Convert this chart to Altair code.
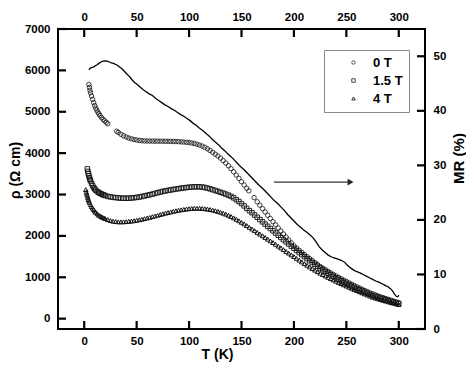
import altair as alt
import pandas as pd

# ---------------- data ----------------
SERIES = ["0 T", "1.5 T", "4 T"]

T_DENSE = [22.5, 25, 27.5, 30, 32.5, 35, 37.5, 40, 42.5, 45,
           47.5, 50, 52.5, 55, 57.5, 60, 62.5, 65, 67.5, 70,
           72.5, 75, 77.5, 80, 82.5, 85, 87.5, 90, 92.5, 95,
           97.5, 100, 102.5, 105, 107.5, 110, 112.5, 115, 117.5, 120,
           122.5, 125, 127.5, 130, 132.5, 135, 137.5, 140, 142.5, 145,
           147.5, 150, 152.5, 155, 157.5, 160, 162.5, 165, 167.5, 170,
           172.5, 175, 177.5, 180, 182.5, 185, 187.5, 190, 192.5, 195,
           197.5, 200, 202.5, 205, 207.5, 210, 212.5, 215, 217.5, 220,
           222.5, 225, 227.5, 230, 232.5, 235, 237.5, 240, 242.5, 245,
           247.5, 250, 252.5, 255, 257.5, 260, 262.5, 265, 267.5, 270,
           272.5, 275, 277.5, 280, 282.5, 285, 287.5, 290, 292.5, 295,
           297.5, 300]

# 0 T (three segments, with gaps as in the reference)
T_0T_A = [4.5, 5, 5.5, 6, 7, 8, 9, 10, 11, 12, 13, 14, 15, 16.5, 18, 19.5, 21, 22.5]
RHO_0T_A = [5660, 5590, 5520, 5460, 5380, 5300, 5220, 5150, 5090, 5040,
            4990, 4950, 4910, 4860, 4815, 4780, 4745, 4710]
T_0T_B = [31] + T_DENSE[4:54] + [157]
RHO_0T_B = [4530, 4500, 4455, 4420, 4390, 4365, 4345, 4330, 4318, 4308,
            4300, 4296, 4293, 4292, 4291, 4290, 4290, 4289, 4288, 4287,
            4286, 4285, 4283, 4280, 4277, 4273, 4268, 4262, 4255, 4245,
            4232, 4215, 4195, 4170, 4140, 4105, 4065, 4020, 3975, 3930,
            3880, 3820, 3760, 3695, 3625, 3550, 3470, 3390, 3310, 3230,
            3150, 3090]
T_0T_C = [162] + T_DENSE[57:]
RHO_0T_C = [2925,
            2825, 2741, 2659, 2578, 2498, 2420, 2343, 2267, 2192, 2118,
            2045, 1973, 1902, 1831, 1760, 1706, 1653, 1601, 1550, 1500,
            1451, 1402, 1354, 1307, 1260, 1220, 1180, 1142, 1105, 1068,
            1033, 998, 965, 932, 900, 866, 833, 801, 770, 740,
            710, 681, 653, 626, 600, 576, 553, 531, 509, 488,
            467, 447, 427, 408, 390]

# 1.5 T
T_15T = [3, 3.5, 4, 4.5, 5, 5.5, 6, 7, 8, 9, 10, 11, 12.5, 13.75, 15, 16.25, 17.5, 18.75, 20] + T_DENSE
RHO_15T = [3620, 3560, 3500, 3450, 3405, 3365, 3330, 3270, 3215, 3170,
           3135, 3105, 3070, 3050, 3030, 3015, 3000, 2987, 2975,
           2955, 2942, 2932, 2925, 2918, 2913, 2910, 2910, 2912, 2916,
           2922, 2930, 2940, 2952, 2966, 2980, 2995, 3010, 3027, 3044,
           3060, 3075, 3088, 3100, 3111, 3122, 3132, 3142, 3152, 3161,
           3169, 3176, 3181, 3185, 3187, 3186, 3180, 3170, 3155, 3137,
           3117, 3097, 3076, 3055, 3033, 3010, 2985, 2955, 2920, 2875,
           2830, 2780, 2725, 2665, 2610, 2560, 2505, 2450, 2395, 2340,
           2285, 2231, 2177, 2123, 2069, 2015, 1962, 1909, 1856, 1804,
           1752, 1700, 1648, 1597, 1547, 1498, 1450, 1403, 1357, 1312,
           1268, 1225, 1183, 1142, 1102, 1063, 1025, 988, 952, 917,
           883, 850, 818, 787, 757, 727, 698, 669, 641, 614,
           587, 560, 538, 517, 496, 476, 456, 436, 417, 398,
           379, 360]

# 4 T
T_4T = [1.5, 2, 2.5, 3, 3.5, 4, 4.5, 5, 6, 7, 8, 9, 10, 11, 12.5, 13.75, 15, 16.25, 17.5, 18.75, 20] + T_DENSE
RHO_4T = [3120, 3060, 3010, 2965, 2920, 2880, 2845, 2810, 2755, 2710,
          2670, 2635, 2600, 2570, 2535, 2505, 2485, 2465, 2450, 2435, 2420,
          2395, 2372, 2355, 2345, 2340, 2338, 2340, 2345, 2351, 2358,
          2367, 2378, 2390, 2403, 2417, 2432, 2448, 2465, 2482, 2500,
          2517, 2534, 2550, 2565, 2580, 2594, 2607, 2619, 2630, 2640,
          2649, 2657, 2663, 2667, 2669, 2668, 2664, 2657, 2648, 2637,
          2624, 2609, 2592, 2572, 2550, 2525, 2498, 2468, 2436, 2402,
          2366, 2328, 2289, 2249, 2208, 2167, 2126, 2085, 2044, 2003,
          1962, 1921, 1880, 1840, 1797, 1754, 1711, 1668, 1625, 1583,
          1541, 1500, 1456, 1413, 1371, 1330, 1290, 1250, 1211, 1173,
          1136, 1100, 1066, 1033, 1000, 968, 937, 906, 876, 847,
          818, 790, 761, 733, 705, 678, 651, 624, 598, 572,
          546, 520, 500, 481, 462, 444, 426, 408, 391, 374,
          357, 340]

# MR (%) curve, right axis
MR_T = [4.5, 5.5, 7, 8.5, 10, 12, 14, 16, 18, 20, 22, 24, 26, 28, 30, 32, 34, 36, 38, 40,
        42, 44, 46, 48, 50, 53, 56, 59, 62, 65, 68, 71, 74, 77, 80, 83, 86, 89, 92, 95,
        98, 101, 104, 107, 110, 113, 116, 119, 122, 125, 128, 131, 134, 137, 140, 143, 146,
        149, 152, 155, 158, 161, 164, 167, 170, 173, 176, 179, 182, 185, 188, 191, 194, 197,
        200, 203, 206, 209, 212, 215, 218, 221, 224, 227, 230, 233, 236, 239, 242, 245, 248,
        251, 254, 257, 260, 263, 266, 269, 272, 275, 278, 281, 284, 287, 290, 292, 294, 296,
        297.5, 299, 300]
MR_VAL = [47.5, 47.8, 47.9, 48.0, 48.2, 48.4, 48.7, 48.95, 49.1, 49.15, 49.1, 48.95, 48.8,
          48.7, 48.5, 48.3, 48.0, 47.7, 47.3, 46.9, 46.5, 46.1, 45.6, 45.2, 44.9, 44.4, 43.9,
          43.5, 43.1, 42.8, 42.3, 41.9, 41.5, 41.1, 40.8, 40.4, 40.1, 39.7, 39.3, 39.0, 38.6,
          38.2, 37.7, 37.3, 36.8, 36.4, 35.9, 35.4, 34.8, 34.3, 33.8, 33.2, 32.7, 32.1, 31.6,
          31.0, 30.4, 29.8, 29.3, 28.7, 28.1, 27.5, 26.9, 26.3, 25.8, 25.2, 24.6, 24.0, 23.4,
          22.9, 22.3, 21.7, 21.0, 20.4, 19.8, 19.2, 18.7, 18.2, 17.8, 17.3, 16.8, 16.0, 15.1,
          14.5, 14.0, 13.5, 13.2, 13.0, 12.8, 12.6, 12.3, 11.7, 11.2, 10.8, 10.5, 10.3, 10.0,
          9.7, 9.4, 9.1, 8.8, 8.6, 8.3, 8.0, 7.7, 7.4, 7.0, 6.4, 6.0, 5.9, 6.2]

# arrow pointing to the right axis (in T and rho units)
ARROW_T = [181, 254]
ARROW_RHO = [3300]

X_TICKS = [0, 50, 100, 150, 200, 250, 300]
Y_TICKS = [0, 1000, 2000, 3000, 4000, 5000, 6000, 7000]
MR_TICKS = [0, 10, 20, 30, 40, 50]

# ---------------- layout / scales ----------------
W, H = 367, 300
TICK = 8  # tick length in px (inward)
FONT = "Liberation Sans"
X_DOM = [-25, 325]
RHO_DOM = [-250, 7000]
MR_DOM = [0, 55]
x_scale = alt.Scale(domain=X_DOM, nice=False, zero=False)
rho_scale = alt.Scale(domain=RHO_DOM, nice=False, zero=False)
mr_scale = alt.Scale(domain=MR_DOM, nice=False, zero=False)

# tick length expressed in each scale's units
dx = TICK * (X_DOM[1] - X_DOM[0]) / W
drho = TICK * (RHO_DOM[1] - RHO_DOM[0]) / H

# ---------------- tables ----------------
rows = []
for ts, rs in ((T_0T_A, RHO_0T_A), (T_0T_B, RHO_0T_B), (T_0T_C, RHO_0T_C)):
    rows += [{"T": t, "rho": r, "field": SERIES[0]} for t, r in zip(ts, rs)]
rows += [{"T": t, "rho": r, "field": SERIES[1]} for t, r in zip(T_15T, RHO_15T)]
rows += [{"T": t, "rho": r, "field": SERIES[2]} for t, r in zip(T_4T, RHO_4T)]
pts_df = pd.DataFrame(rows)
n_mr = min(len(MR_T), len(MR_VAL))
mr_df = pd.DataFrame({"T": MR_T[:n_mr], "MR": MR_VAL[:n_mr]})
arrow_df = pd.DataFrame({"T0": [ARROW_T[0]], "T1": [ARROW_T[1]], "rho": ARROW_RHO})

xt_rows = []
for v in X_TICKS:
    xt_rows.append({"x": v, "y": RHO_DOM[0], "y2": RHO_DOM[0] + drho})
    xt_rows.append({"x": v, "y": RHO_DOM[1], "y2": RHO_DOM[1] - drho})
xt_df = pd.DataFrame(xt_rows)
yt_df = pd.DataFrame({"y": Y_TICKS, "x": X_DOM[0], "x2": X_DOM[0] + dx})
mt_df = pd.DataFrame({"y": MR_TICKS, "x": X_DOM[1], "x2": X_DOM[1] - dx})

# ---------------- marks ----------------
ax = dict(domain=False, grid=False, ticks=False, labelFont=FONT, labelFontWeight="bold",
          labelFontSize=11.5, labelColor="black", titleFont=FONT,
          titleFontWeight="bold", titleColor="black", format="d")

points = alt.Chart(pts_df).mark_point(size=20, filled=False, opacity=1).encode(
    x=alt.X("T:Q", scale=x_scale,
            axis=alt.Axis(orient="bottom", values=X_TICKS, title="T (K)", titleFontSize=14,
                          titleX=159, titlePadding=1, labelPadding=6, **ax)),
    y=alt.Y("rho:Q", scale=rho_scale,
            axis=alt.Axis(orient="left", values=Y_TICKS, title="ρ (Ω cm)", titleFontSize=14,
                          titleX=-43, titleY=141, titleBaseline="middle", labelPadding=8, **ax)),
    shape=alt.Shape("field:N",
                    scale=alt.Scale(domain=SERIES, range=["circle", "square", "triangle-up"]),
                    legend=alt.Legend(orient="none", legendX=266, legendY=21, title=None,
                                      strokeColor="#888888", fillColor="white", padding=6,
                                      rowPadding=4, symbolOffset=17, labelOffset=13,
                                      symbolSize=12, symbolStrokeWidth=1,
                                      symbolStrokeColor="#333333", symbolFillColor="transparent",
                                      labelFont=FONT, labelFontSize=13, labelFontWeight="bold",
                                      labelColor="black")),
    strokeWidth=alt.StrokeWidth("field:N",
                                scale=alt.Scale(domain=SERIES, range=[0.8, 1.0, 1.0]),
                                legend=None),
    color=alt.value("#111111"),
)

arrow_line = alt.Chart(arrow_df).mark_rule(color="#333333", strokeWidth=1.2).encode(
    x=alt.X("T0:Q", scale=x_scale, axis=None),
    x2="T1:Q",
    y=alt.Y("rho:Q", scale=rho_scale, axis=None),
)
arrow_head = alt.Chart(arrow_df).mark_point(shape="triangle-right", filled=True, size=45,
                                            color="#222222", opacity=1).encode(
    x=alt.X("T1:Q", scale=x_scale, axis=None),
    y=alt.Y("rho:Q", scale=rho_scale, axis=None),
)

# inward-pointing tick marks on all four sides
tick_style = dict(color="black", strokeWidth=2.2)
ticks_x = alt.Chart(xt_df).mark_rule(**tick_style).encode(
    x=alt.X("x:Q", scale=x_scale, axis=None),
    y=alt.Y("y:Q", scale=rho_scale, axis=None), y2="y2:Q")
ticks_left = alt.Chart(yt_df).mark_rule(**tick_style).encode(
    x=alt.X("x:Q", scale=x_scale, axis=None), x2="x2:Q",
    y=alt.Y("y:Q", scale=rho_scale, axis=None))
ticks_right = alt.Chart(mt_df).mark_rule(**tick_style).encode(
    x=alt.X("x:Q", scale=x_scale, axis=None), x2="x2:Q",
    y=alt.Y("y:Q", scale=mr_scale, axis=None))

mr_line = alt.Chart(mr_df).mark_line(color="black", strokeWidth=1.3).encode(
    x=alt.X("T:Q", scale=x_scale,
            axis=alt.Axis(orient="top", values=X_TICKS, title=None, labelPadding=7, **ax)),
    y=alt.Y("MR:Q", scale=mr_scale,
            axis=alt.Axis(orient="right", values=MR_TICKS, title="MR (%)", titleFontSize=15,
                          titleAngle=270, titleX=33, titleY=129, titleBaseline="middle",
                          labelPadding=8, **ax)),
)

chart = (
    alt.layer(mr_line, points, arrow_line, arrow_head, ticks_x, ticks_left, ticks_right)
    .resolve_scale(x="independent", y="independent")
    .resolve_axis(x="independent", y="independent")
    .properties(width=W, height=H,
                padding={"left": 50, "top": 21, "right": 41, "bottom": 36},
                autosize=alt.AutoSizeParams(type="none"))
    .configure_view(stroke="black", strokeWidth=2)
)

chart.save("out.html", embed_options={"renderer": "svg", "actions": False})
